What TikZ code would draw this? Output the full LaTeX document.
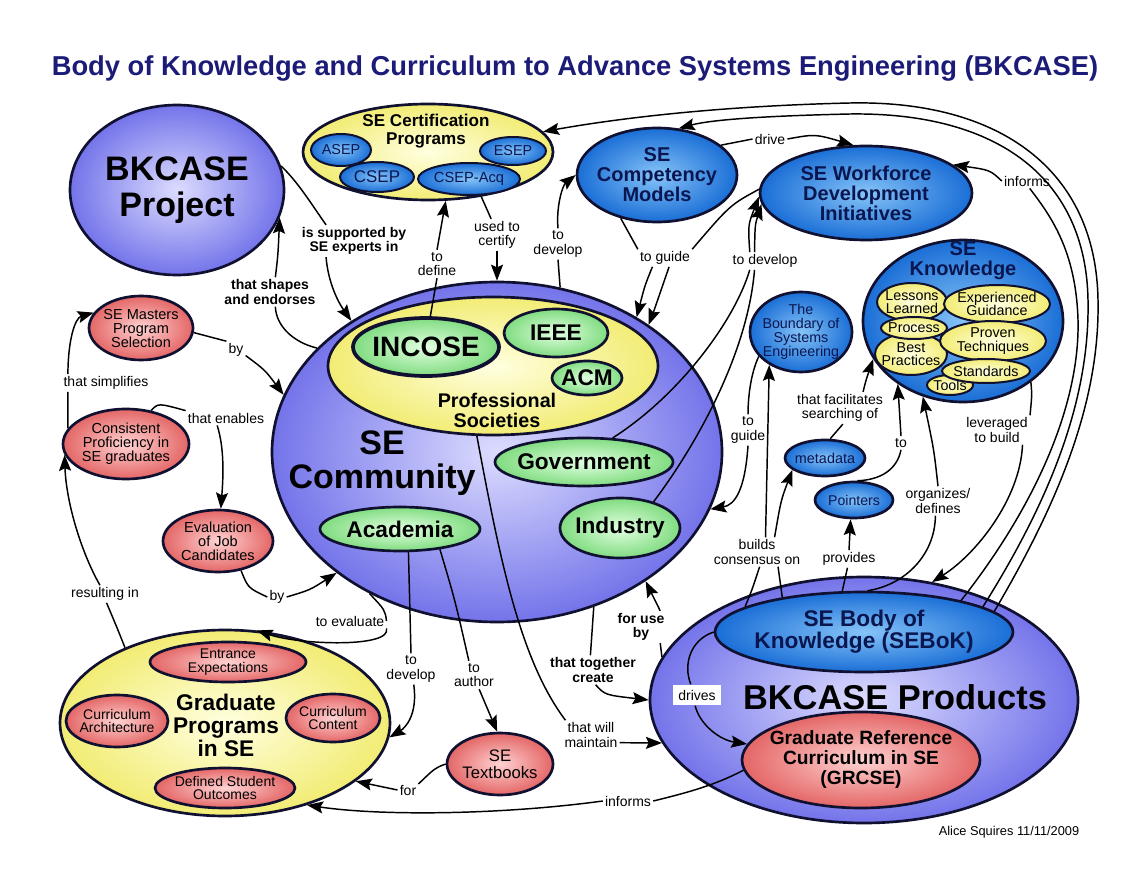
\documentclass[tikz,border=0pt]{standalone}
\usepackage{fontspec}
\setmainfont{Liberation Sans}
\usetikzlibrary{shapes.geometric,arrows.meta}
\definecolor{bord}{HTML}{101030}
\definecolor{ttl}{HTML}{1C1C78}
\definecolor{navy}{HTML}{0A1650}
\definecolor{purpI}{HTML}{DCDCFF}
\definecolor{purpO}{HTML}{7474EA}
\definecolor{bluI}{HTML}{86C4F8}
\definecolor{bluO}{HTML}{1A6ED6}
\definecolor{yelI}{HTML}{FFFFE0}
\definecolor{yelO}{HTML}{F2EC74}
\definecolor{grnI}{HTML}{E2FFE2}
\definecolor{grnO}{HTML}{80DC80}
\definecolor{pnkI}{HTML}{FFD2D2}
\definecolor{pnkO}{HTML}{E46666}
\newcommand{\myfs}[2]{\fontsize{#1}{#2}\selectfont}
\newcommand{\mycpt}[7]{%
  \node[#5,minimum width=#3*1.5pt,minimum height=#4*1.5pt] (#1) at (#2) {};
  \node[txt,#6] (#1-t) at (#1.center) {#7};}
\newcommand{\myctr}[5]{%
  \node[#5,minimum width=#3*1.5pt,minimum height=#4*1.5pt] (#1) at (#2) {};}
\tikzset{
  shp/.style={ellipse,inner sep=0pt,draw=bord,line width=1.5pt},
  big/.style={line width=2pt},
  purp/.style={shp,big,inner color=purpI,outer color=purpO},
  blu/.style={shp,inner color=bluI,outer color=bluO},
  yel/.style={shp,inner color=yelI,outer color=yelO},
  grn/.style={shp,inner color=grnI,outer color=grnO},
  pnk/.style={shp,inner color=pnkI,outer color=pnkO},
  txt/.style={align=center,inner sep=0pt},
  lbl/.style={align=center,inner sep=1.5pt,font=\myfs{10.5}{11}},
  blbl/.style={lbl,font=\myfs{10.5}{11}\bfseries},
  con/.style={line width=1.1pt,draw=black},
  arr/.style={con,-{Stealth[length=12pt,width=9pt,inset=2pt]}},
}
\begin{document}
\begin{tikzpicture}[x=0.75pt,y=-0.75pt]
\useasboundingbox (0,0) rectangle (1142,880);
\fill[white] (0,0) rectangle (1142,880);

\node[font=\myfs{20.5}{24}\bfseries,text=ttl] (title) at (575,68) {Body of Knowledge and Curriculum to Advance Systems Engineering (BKCASE)};

% BKCASE Project
\mycpt{bp}{177,190}{107}{85}{purp}{font=\myfs{25.5}{27}\bfseries}{BKCASE\\Project}

% Certification programs
\myctr{cert}{428,152}{125}{48}{yel,big}
\node[txt,font=\myfs{12.8}{13.5}\bfseries] (cert-t) at (426,131) {SE Certification\\Programs};
\mycpt{asep}{341,150}{30}{16}{blu}{font=\myfs{10.8}{11},text=navy}{ASEP}
\mycpt{esep}{513,151}{33}{14}{blu}{font=\myfs{10.8}{11},text=navy}{ESEP}
\mycpt{csep}{377,177}{37}{15}{blu}{font=\myfs{12.7}{13},text=navy}{CSEP}
\mycpt{cacq}{469,179}{51}{16}{blu}{font=\myfs{11}{12},text=navy}{CSEP-Acq}

% Competency, Workforce
\mycpt{comp}{657,175}{80}{47}{blu,big}{font=\myfs{15}{15}\bfseries,text=navy}{SE\\Competency\\Models}
\mycpt{wf}{866,193}{106}{47}{blu,big}{font=\myfs{15}{15}\bfseries,text=navy}{SE Workforce\\Development\\Initiatives}

% SE Knowledge
\myctr{sek}{963,321}{100}{81}{blu,big}
\node[txt,font=\myfs{15}{15}\bfseries,text=navy] (sek-t) at (963,261) {SE\\Knowledge};
\mycpt{ll}{912,302}{35}{19}{yel}{font=\myfs{10.7}{10}}{Lessons\\Learned}
\mycpt{bestp}{911,354}{36}{21}{yel}{font=\myfs{10.7}{10}}{Best\\Practices}
\mycpt{proc}{914,328}{33}{11}{yel}{font=\myfs{10.7}{10}}{Process}
\mycpt{eg}{997,304}{53}{19}{yel}{font=\myfs{10.7}{10}}{Experienced\\Guidance}
\mycpt{pt}{993,341}{53}{20}{yel}{font=\myfs{10.7}{10}}{Proven\\Techniques}
\mycpt{tools}{950,385}{23}{10}{yel}{font=\myfs{10.7}{10}}{Tools}
\mycpt{std}{986,371}{44}{12}{yel}{font=\myfs{10.7}{10}}{Standards}

% Boundary, metadata, pointers
\mycpt{bound}{801,332}{51}{40}{blu,big}{font=\myfs{10.7}{10.5},text=navy}{The\\Boundary of\\Systems\\Engineering}
\mycpt{meta}{825,458}{40}{18}{blu,big}{font=\myfs{10.8}{11},text=navy}{metadata}
\mycpt{ptr}{854,500}{39}{18}{blu,big}{font=\myfs{10.6}{11},text=navy}{Pointers}

% SE Community
\myctr{sec}{497,452}{225}{170}{purp}
\myctr{ps}{493,366}{165}{69}{yel,big}
\node[txt,font=\myfs{14.8}{15}\bfseries] (ps-t) at (497,410) {Professional\\Societies};
\mycpt{incose}{426,347}{73}{29}{grn,line width=2.8pt}{font=\myfs{21}{22}\bfseries}{INCOSE}
\mycpt{ieee}{556,333}{52}{24}{grn,big}{font=\myfs{17}{18}\bfseries}{IEEE}
\mycpt{acm}{587,378}{35}{17}{grn,big}{font=\myfs{17}{18}\bfseries}{ACM}
\node[txt,font=\myfs{25.5}{26}\bfseries] (sec-t) at (382,463) {SE\\Community};
\mycpt{gov}{584,462}{89}{24}{grn,big}{font=\myfs{17}{18}\bfseries}{Government}
\mycpt{ind}{620,528}{60}{30}{grn,big}{font=\myfs{17}{18}\bfseries}{Industry}
\mycpt{acad}{400,529}{80}{22}{grn,big}{font=\myfs{17}{18}\bfseries}{Academia}

% left pink
\mycpt{msel}{141,328}{52}{32}{pnk,big}{font=\myfs{10.9}{10.5}}{SE Masters\\Program\\Selection}
\mycpt{cons}{126,444}{63}{35}{pnk,big}{font=\myfs{10.9}{10.5}}{Consistent\\Proficiency in\\SE graduates}
\mycpt{evalj}{218,541}{55}{31}{pnk,big}{font=\myfs{10.9}{10.5}}{Evaluation\\of Job\\Candidates}

% Graduate programs
\myctr{grad}{225,723}{165}{93}{yel,big}
\node[txt,font=\myfs{17}{17.3}\bfseries] (grad-t) at (226,725) {Graduate\\Programs\\in SE};
\mycpt{entr}{228,662}{78}{20}{pnk,big}{font=\myfs{10.5}{10}}{Entrance\\Expectations}
\mycpt{carch}{117,721}{51}{26}{pnk,big}{font=\myfs{10.5}{10}}{Curriculum\\Architecture}
\mycpt{ccont}{333,718}{47}{24}{pnk,big}{font=\myfs{10.5}{10}}{Curriculum\\Content}
\mycpt{dso}{225,788}{70}{20}{pnk,big}{font=\myfs{10.5}{10}}{Defined Student\\Outcomes}
\mycpt{tb}{500,764}{53}{31}{pnk,big}{font=\myfs{12.5}{12.5}}{SE\\Textbooks}

% BKCASE Products
\myctr{prod}{864,700}{214}{123}{purp}
\mycpt{sebok}{864,632}{149}{40}{blu,big}{font=\myfs{17}{16.3}\bfseries,text=navy}{SE Body of\\Knowledge (SEBoK)}
\mycpt{grcse}{861,760}{119}{48}{pnk,big}{font=\myfs{14.4}{15}\bfseries}{Graduate Reference\\Curriculum in SE\\(GRCSE)}
\node[txt,font=\myfs{25.8}{26}\bfseries] (prod-t) at (895,697) {BKCASE Products};

\node[font=\myfs{9.6}{10}] (auth) at (1009,832) {Alice Squires 11/11/2009};

% labels
\node[blbl] (Lsup) at (354,241) {is supported by\\SE experts in};
\node[blbl] (Lshape) at (270,292) {that shapes\\and endorses};
\node[lbl] (Ldef) at (437,264) {to\\define};
\node[lbl] (Lcert) at (497,235) {used to\\certify};
\node[lbl] (Ldev1) at (558,244) {to\\develop};
\node[lbl] (Lguide1) at (665,258) {to guide};
\node[lbl] (Ldev2) at (765,261) {to develop};
\node[lbl] (Ldrive) at (770,139) {drive};
\node[lbl] (Linf1) at (1027,181) {informs};
\node[lbl] (Llev) at (997,430) {leveraged\\to build};
\node[lbl] (Lorg) at (938,501) {organizes/\\defines};
\node[lbl] (Lto) at (901,443) {to};
\node[lbl] (Lfac) at (840,408) {that facilitates\\searching of};
\node[lbl] (Lguide2) at (748,430) {to\\guide};
\node[lbl] (Lcons) at (757,552) {builds\\consensus on};
\node[lbl] (Lprov) at (849,559) {provides};
\node[blbl] (Ltog) at (593,670) {that together\\create};
\node[blbl] (Luse) at (641,627) {for use\\by};
\node[lbl] (Lmaint) at (591,735) {that will\\maintain};
\node[lbl] (Lauth) at (474,675) {to\\author};
\node[lbl] (Ldev3) at (411,669) {to\\develop};
\node[lbl] (Lfor) at (408,790) {for};
\node[lbl] (Linf2) at (628,801) {informs};
\node[lbl,fill=white,inner sep=4pt] (Ldrv) at (697,695) {drives};
\node[lbl] (Lby1) at (236,350) {by};
\node[lbl] (Lsimp) at (106,383) {that simplifies};
\node[lbl] (Len) at (226,418) {that enables};
\node[lbl] (Lby2) at (277,597) {by};
\node[lbl] (Lres) at (105,594) {resulting in};
\node[lbl] (Leval) at (350,621) {to evaluate};

% connectors
\draw[con] (bp.13) .. controls (298,182) and (312,205) .. (Lsup.150);
\draw[arr] (Lsup.210) .. controls (328,282) and (338,302) .. (sec.138);
\draw[con] (sec.150) .. controls (292,342) and (276,325) .. (Lshape.-70);
\draw[arr] (Lshape.70) .. controls (278,255) .. (bp.-15);
\draw[con] (incose.82) -- (Ldef.south);
\draw[arr] (Ldef.north) -- (cert.-70);
\draw[con] (cert.-40) -- (Lcert.110);
\draw[arr] (Lcert.south) -- (sec.90);
\draw[con] (sec.69) -- (Ldev1.south);
\draw[arr] (Ldev1.north) .. controls (556,205) and (563,185) .. (comp.180);
\draw[con] (comp.230) -- (Lguide1.north west);
\draw[con] (wf.178) .. controls (730,205) .. (Lguide1.north east);
\draw[arr] (Lguide1.-145) .. controls (645,285) .. (sec.44);
\draw[arr] (Lguide1.-65) .. controls (662,290) .. (sec.40);
\draw[con] (gov.40) .. controls (680,395) and (735,320) .. (Ldev2.-150);
\draw[con] (ind.38) .. controls (700,440) and (748,350) .. (Ldev2.-140);
\draw[arr] (Ldev2.150) .. controls (748,225) .. (wf.182);
\draw[arr] (Ldev2.140) .. controls (755,225) .. (wf.186);
\draw[con] (comp.25) -- (Ldrive.west);
\draw[arr] (Ldrive.east) .. controls (815,134) .. (wf.105);
\draw[con] (sebok.18) .. controls (1040,500) and (1080,400) .. (1078,320) .. controls (1076,250) and (1050,215) .. (Linf1.-70);
\draw[arr] (sebok.12) .. controls (1050,500) and (1090,400) .. (1088,300) .. controls (1086,180) and (1000,112) .. (850,114) .. controls (760,116) and (710,120) .. (comp.65);
\draw[arr] (sebok.9) .. controls (1060,500) and (1100,400) .. (1098,300) .. controls (1096,170) and (1000,100) .. (850,103) .. controls (720,106) and (620,118) .. (cert.10);
\draw[arr] (Linf1.west) .. controls (990,170) .. (wf.18);
\draw[con] (sek.-42) .. controls (1032,395) .. (Llev.north east);
\draw[arr] (Llev.-30) .. controls (1020,500) and (975,555) .. (prod.60);
\draw[con] (sebok.85) .. controls (905,585) and (935,555) .. (Lorg.-100);
\draw[arr] (Lorg.north) .. controls (934,450) .. (sek.-118);
\draw[con] (ptr.80) .. controls (880,480) and (897,470) .. (Lto.south);
\draw[arr] (Lto.north) -- (sek.-136);
\draw[con] (meta.75) -- (Lfac.-80);
\draw[arr] (Lfac.35) .. controls (866,380) .. (sek.-157);
\draw[con] (bound.-150) .. controls (750,375) and (748,400) .. (Lguide2.north);
\draw[arr] (Lguide2.south) .. controls (745,490) and (735,505) .. (sec.-15);
\draw[con] (sebok.168) .. controls (752,590) .. (Lcons.-80);
\draw[con] (sebok.157) -- (Lcons.-35);
\draw[arr] (Lcons.60) -- (bound.-134);
\draw[arr] (Lcons.40) .. controls (781,500) .. (meta.-160);
\draw[con] (sebok.118) -- (Lprov.-100);
\draw[arr] (Lprov.north) -- (ptr.-100);
\draw[con] (sec.-58) -- (Ltog.100);
\draw[arr] (Ltog.-80) .. controls (605,695) .. (prod.180);
\draw[con] (prod.168) -- (Luse.-40);
\draw[arr] (Luse.40) -- (sec.-41);
\draw[con] (ps.-103) .. controls (500,560) and (520,660) .. (Lmaint.150);
\draw[arr] (Lmaint.-15) -- (prod.-168);
\draw[con] (acad.-27) .. controls (455,600) .. (Lauth.110);
\draw[arr] (Lauth.-70) -- (tb.95);
\draw[con] (acad.-70) -- (Ldev3.north);
\draw[arr] (Ldev3.-80) .. controls (418,715) and (405,728) .. (grad.-5);
\draw[con] (tb.180) .. controls (435,768) .. (Lfor.30);
\draw[arr] (Lfor.west) -- (grad.-24);
\draw[con] (grcse.185) .. controls (715,785) and (690,792) .. (Linf2.east);
\draw[arr] (Linf2.west) .. controls (500,815) and (380,816) .. (grad.-45);
\draw[con] (sebok.180) .. controls (690,640) and (683,665) .. (Ldrv.120);
\draw[arr] (Ldrv.-100) .. controls (700,725) and (720,740) .. (grcse.172);
\draw[con] (msel.-5) -- (Lby1.north west);
\draw[arr] (Lby1.-30) .. controls (265,370) .. (sec.165);
\draw[con] (cons.165) -- (Lsimp.-167);
\draw[arr] (Lsimp.167) .. controls (68,340) and (75,318) .. (msel.162);
\draw[con] (cons.53) .. controls (158,403) .. (Len.north west);
\draw[arr] (Len.-140) .. controls (225,450) and (223,480) .. (evalj.85);
\draw[con] (evalj.-52) .. controls (248,588) .. (Lby2.west);
\draw[arr] (Lby2.east) .. controls (310,590) .. (sec.-143);
\draw[con] (grad.143) .. controls (118,630) .. (Lres.-80);
\draw[arr] (Lres.120) .. controls (80,550) and (66,500) .. (cons.-170);
\draw[con] (sec.-132) .. controls (385,610) .. (Leval.east);
\draw[arr] (Leval.south east) .. controls (392,648) and (300,645) .. (grad.71);
\end{tikzpicture}
\end{document}
